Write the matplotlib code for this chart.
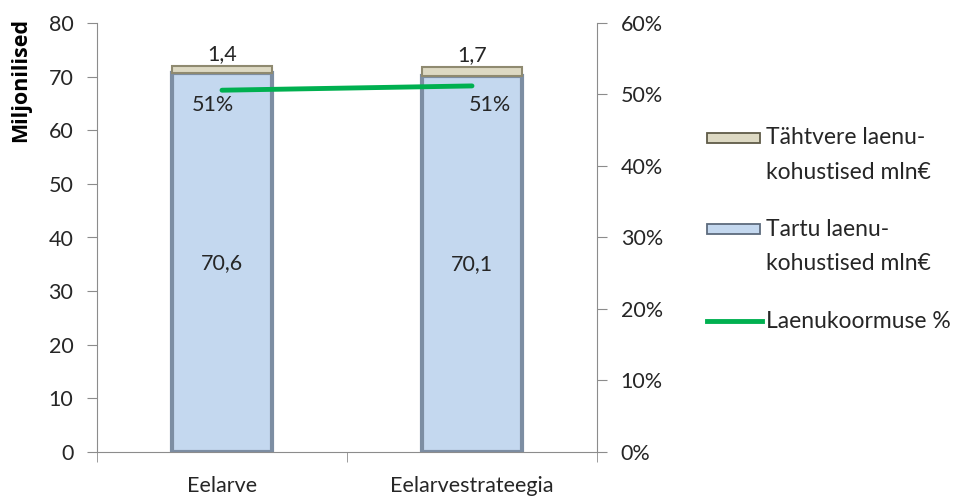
import matplotlib
matplotlib.use('Agg')
from matplotlib import pyplot as plt
from matplotlib.lines import Line2D
from matplotlib.patches import Rectangle
from matplotlib.ticker import FuncFormatter
import numpy as np

# Andmed
kategooriad = ['Eelarve', 'Eelarvestrateegia']
tartu = [70.6, 70.1]
tahtvere = [1.4, 1.7]
koormus = [0.506, 0.512]
tartu_sildid = ['70,6', '70,1']
tahtvere_sildid = ['1,4', '1,7']
koormus_sildid = ['51%', '51%']
legendi_tekstid = [['Tähtvere laenu-', 'kohustised mln€'],
                   ['Tartu laenu-', 'kohustised mln€'],
                   ['Laenukoormuse %']]

plt.rcParams['font.family'] = ['Lato', 'DejaVu Sans']
tekst = '#262626'
telg = '#8c8c8c'
fs = 15.5
W, H = 967, 498

fig = plt.figure(figsize=(9.67, 4.98), dpi=100)
ax = fig.add_axes([97 / W, (H - 452) / H, 500 / W, (452 - 23) / H])
ax2 = ax.twinx()

x = np.arange(len(kategooriad))
laius = 0.4

# Tulbad
ax.bar(x, tartu, laius, color='#c4d8ef', edgecolor='#7d8ea3', linewidth=3, zorder=2)
ax.bar(x, tahtvere, laius, bottom=tartu, color='#ddd9c3', edgecolor='#8f8a70',
       linewidth=1.5, zorder=2)

# Joon
ax2.plot(x, koormus, color='#00b050', linewidth=3.5, solid_capstyle='round', zorder=3)

# Sildid
for i in range(len(x)):
    ax.text(x[i], tartu[i] / 2, tartu_sildid[i], ha='center', va='center', fontsize=fs, color=tekst)
    ax.text(x[i], tartu[i] + tahtvere[i] + 0.3, tahtvere_sildid[i], ha='center', va='bottom',
            fontsize=fs, color=tekst)
ax2.text(x[0] - 0.035, koormus[0] - 0.02, koormus_sildid[0], ha='center', va='center',
         fontsize=fs, color=tekst)
ax2.text(x[1] + 0.07, koormus[1] - 0.026, koormus_sildid[1], ha='center', va='center',
         fontsize=fs, color=tekst)

# Teljed
ax.set_xlim(-0.5, 1.5)
ax.set_ylim(0, 80)
ax.set_yticks(range(0, 81, 10))
ax2.set_ylim(0, 0.6)
ax2.set_yticks(np.arange(0, 0.61, 0.1))
ax2.yaxis.set_major_formatter(FuncFormatter(lambda v, p: f'{v * 100:.0f}%'))

ax.set_xticks(x)
ax.set_xticklabels(kategooriad, fontsize=fs, color=tekst)
ax.set_xticks([-0.5, 0.5, 1.5], minor=True)
ax.tick_params(axis='x', which='major', length=0, pad=17)
ax.tick_params(axis='x', which='minor', length=7, color=telg, direction='out')
ax.tick_params(axis='y', labelsize=fs, labelcolor=tekst, color=telg, length=7, pad=10)
ax2.tick_params(axis='y', labelsize=fs, labelcolor=tekst, color=telg, length=7, pad=10)

for a in (ax, ax2):
    a.spines['top'].set_visible(False)
    for s in ('left', 'right', 'bottom'):
        a.spines[s].set_color(telg)
ax.spines['right'].set_visible(False)
ax2.spines['left'].set_visible(False)
ax2.spines['bottom'].set_visible(False)

# Telje nimi ülal vasakul
fig.text(21 / W, 1 - 18 / H, 'Miljonilised', rotation=90, ha='center', va='top',
         fontsize=15.5, fontweight='bold', color='black', family=['Open Sans', 'DejaVu Sans'])

# Legend (käsitsi, et mitmerealised kirjed joonduks nagu originaalis)
def px(xp, yp):
    return xp / W, 1 - yp / H

varvid = [('#ddd9c3', '#5f5b48'), ('#c4d8ef', '#5d6b7d')]
for (fc, ec), yrida, read in zip(varvid, [138, 229], legendi_tekstid[:2]):
    xr, yr = px(707, yrida + 5)
    fig.patches.append(Rectangle((xr, yr), 53 / W, 10 / H, transform=fig.transFigure,
                                 facecolor=fc, edgecolor=ec, linewidth=1.3))
    for j, rida in enumerate(read):
        tx, ty = px(766, yrida + j * 34)
        fig.text(tx, ty, rida, ha='left', va='center', fontsize=16.5, color=tekst)
lx0, ly = px(707, 321)
lx1, _ = px(762, 321)
fig.lines.append(Line2D([lx0, lx1], [ly, ly], transform=fig.transFigure, color='#00b050',
                        linewidth=3.5))
tx, ty = px(766, 321)
fig.text(tx, ty, legendi_tekstid[2][0], ha='left', va='center', fontsize=16.5, color=tekst)

fig.savefig('out.png', dpi=100)
